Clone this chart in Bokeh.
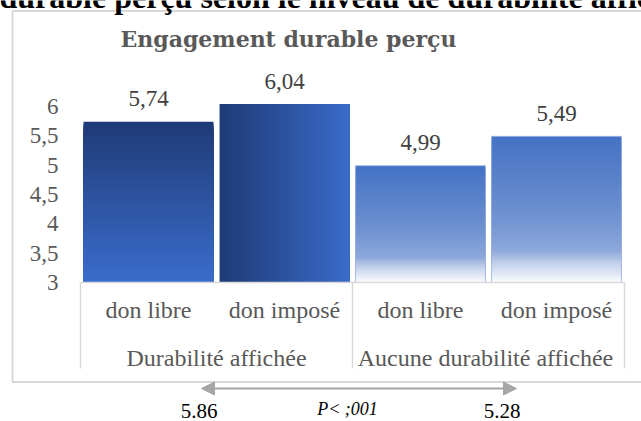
import numpy as np
from bokeh.plotting import figure
from bokeh.models import Range1d, Arrow, NormalHead, ColumnDataSource
from bokeh.core.properties import value
from bokeh.embed import file_html
from bokeh.resources import INLINE

# ---------------- data ----------------
groups = ["Durabilité affichée", "Aucune durabilité  affichée"]
conditions = ["don libre", "don imposé"]
means = [5.74, 6.04, 4.99, 5.49]
mean_labels = ["5,74", "6,04", "4,99", "5,49"]
y_ticks = [3, 3.5, 4, 4.5, 5, 5.5, 6]
y_tick_labels = ["3", "3,5", "4", "4,5", "5", "5,5", "6"]
group_means = ["5.86", "5.28"]
p_label = "P< ;001"
chart_title = "Engagement durable perçu"
page_title = "durable perçu selon le niveau de durabilité affichée"

# ---------------- geometry ----------------
W, H = 641, 421
Y0 = 3.0            # axis minimum (bar base)
PX_PER_X = 136.0
X_ORIGIN = 80.0     # canvas x of category slot 0 left edge
PX_PER_Y = 58.7
Y_BASE = 282.0      # canvas y of value 3

def dx(cx):
    return (cx - X_ORIGIN) / PX_PER_X

def dy(cy):
    return Y0 + (Y_BASE - cy) / PX_PER_Y

p = figure(width=W, height=H, output_backend="svg", toolbar_location=None,
           x_axis_location=None, y_axis_location=None, min_border=0,
           x_range=Range1d(dx(0), dx(W)), y_range=Range1d(dy(H), dy(0)))
p.grid.visible = False
p.outline_line_color = None
p.background_fill_color = "white"
p.border_fill_color = "white"

SERIF = value("Liberation Serif")

def hex2rgb(h):
    h = h.lstrip("#")
    return np.array([int(h[i:i + 2], 16) for i in (0, 2, 4)], dtype=float)

def grad(stops, t):
    for (p0, c0), (p1, c1) in zip(stops[:-1], stops[1:]):
        if t <= p1:
            f = (t - p0) / (p1 - p0) if p1 > p0 else 0
            c = hex2rgb(c0) * (1 - f) + hex2rgb(c1) * f
            return "#%02x%02x%02x" % tuple(int(round(v)) for v in c)
    return stops[-1][1]

dark_v = [(0, "#1F3B76"), (1, "#3B6DCC")]
dark_h = [(0, "#1F3B76"), (1, "#3A6BC9")]
fade_v = [(0, "#4472C4"), (0.5, "#6A8ECF"), (0.78, "#8CA7DA"), (0.87, "#C3D1EC"), (1.0, "#FBFCFE")]
bar_styles = [("v", dark_v), ("h", dark_h), ("v", fade_v), ("v", fade_v)]

BAR_W = 0.955
N = 80
centers = []
L, R, T, B, C = [], [], [], [], []
idx = 0
for g, grp in enumerate(groups):
    for c, cond in enumerate(conditions):
        v = means[idx]
        xc = idx + 0.5
        centers.append(xc)
        kind, stops = bar_styles[idx]
        left, right = xc - BAR_W / 2, xc + BAR_W / 2
        # overlapping, progressively smaller rectangles -> seamless gradient
        for k in range(N):
            tt = (k + 0.5) / N
            if kind == "v":
                L.append(left); R.append(right); B.append(Y0)
                T.append(Y0 + (v - Y0) * (N - k) / N)
            else:
                L.append(left + (right - left) * k / N); R.append(right)
                B.append(Y0); T.append(v)
            C.append(grad(stops, tt))
        idx += 1

src = ColumnDataSource(dict(left=L, right=R, top=T, bottom=B, color=C))
p.quad(left="left", right="right", top="top", bottom="bottom", source=src,
       fill_color="color", line_color=None)

# light outline on the faded bars
p.quad(left=[centers[i] - BAR_W / 2 for i in (2, 3)],
       right=[centers[i] + BAR_W / 2 for i in (2, 3)],
       top=[means[i] for i in (2, 3)], bottom=[Y0, Y0],
       fill_color=None, line_color="#9DB3E0", line_width=1, line_alpha=0.8)

# value labels
p.text(x=centers, y=means, text=mean_labels, text_align="center",
       text_baseline="middle", y_offset=-23, text_font=SERIF,
       text_font_size="23px", text_color="#404040")

# y tick labels
p.text(x=[dx(58)] * len(y_ticks), y=y_ticks, text=y_tick_labels,
       text_align="right", text_baseline="middle", text_font=SERIF,
       text_font_size="23px", text_color="#595959")

# category axis box
n_cat = len(means)
bounds = [0]
for g in groups:
    bounds.append(bounds[-1] + len(conditions))
p.segment(x0=[0], y0=[Y0], x1=[n_cat], y1=[Y0], line_color="#D9D9D9", line_width=1.5)
p.segment(x0=bounds, y0=[Y0] * len(bounds), x1=bounds, y1=[dy(368)] * len(bounds),
          line_color="#D9D9D9", line_width=1.5)

sub_labels = [cond for g in groups for cond in conditions]
p.text(x=centers, y=[Y0] * n_cat, text=sub_labels, text_align="center",
       text_baseline="middle", y_offset=27, text_font=SERIF,
       text_font_size="24px", text_color="#595959")
grp_centers = [(bounds[i] + bounds[i + 1]) / 2 for i in range(len(groups))]
p.text(x=grp_centers, y=[Y0] * len(groups), text=groups, text_align="center",
       text_baseline="middle", y_offset=75, text_font=SERIF,
       text_font_size="24px", text_color="#595959")

# outer chart frame (left, top, bottom)
p.line(x=[dx(W + 20), dx(12), dx(12), dx(W + 20)],
       y=[dy(10.5), dy(10.5), dy(381.5), dy(381.5)],
       line_color="#D9D9D9", line_width=2)

# chart title
p.text(x=[dx(288)], y=[dy(38.5)], text=[chart_title], text_align="center",
       text_baseline="middle", text_font=value("DejaVu Serif"),
       text_font_style="bold", text_font_size="22px", text_color="#595959")

# partially visible document title above the chart
p.text(x=[dx(-1)], y=[dy(-4)], text=[page_title], text_align="left",
       text_baseline="middle", text_font=SERIF, text_font_style="bold",
       text_font_size="32px", text_color="#000000")

# comparison arrow and group means
p.add_layout(Arrow(start=NormalHead(size=13, fill_color="#A6A6A6", line_color="#A6A6A6"),
                   end=NormalHead(size=13, fill_color="#A6A6A6", line_color="#A6A6A6"),
                   x_start=dx(201), y_start=dy(388), x_end=dx(516), y_end=dy(388),
                   line_color="#A6A6A6", line_width=2))
p.text(x=[dx(198.5), dx(501.5)], y=[dy(410)] * 2, text=group_means,
       text_align="center", text_baseline="middle", text_font=SERIF,
       text_font_size="21px", text_color="#000000")
p.text(x=[dx(347)], y=[dy(408.5)], text=[p_label], text_align="center",
       text_baseline="middle", text_font=SERIF, text_font_style="italic",
       text_font_size="18px", text_color="#000000")

open("out.html", "w").write(file_html(p, INLINE))
